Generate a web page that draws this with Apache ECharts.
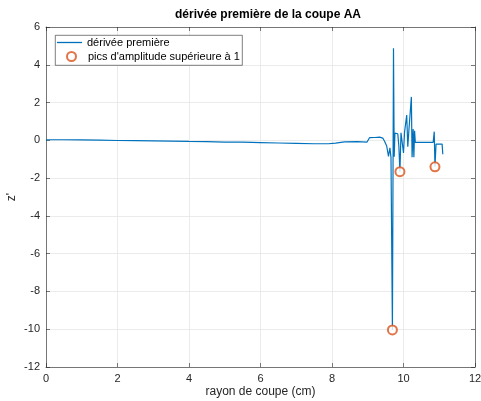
<!DOCTYPE html>
<html>
<head>
<meta charset="utf-8">
<script src="https://cdn.jsdelivr.net/npm/echarts@6/dist/echarts.min.js"></script>
<style>
  html, body { margin: 0; padding: 0; background: #fff; }
  #chart { width: 481px; height: 401px; }
</style>
</head>
<body>
<div id="chart"></div>
<script>
// Radius along the cut (cm) and first derivative z'
const radius = [
  0, 0.5, 1, 1.5, 2, 2.5, 3, 3.5, 4, 4.5, 5, 5.5, 6, 6.5, 7, 7.5, 7.9, 8.1, 8.35, 8.7, 8.98,
  9.05, 9.2, 9.33, 9.37, 9.42, 9.47, 9.53, 9.58, 9.62, 9.65, 9.69, 9.72, 9.74, 9.76, 9.79,
  9.84, 9.87, 9.9, 9.93, 9.97, 10.0, 10.03, 10.09, 10.12, 10.15, 10.19, 10.22, 10.24, 10.27,
  10.29, 10.31, 10.33, 10.83, 10.86, 10.88, 10.91, 11.08, 11.1
];
const derivative = [
  0.03, 0.03, 0.02, 0.01, -0.01, -0.02, -0.03, -0.04, -0.06, -0.07, -0.09, -0.1, -0.12, -0.14, -0.16, -0.18, -0.18, -0.15, -0.08, -0.07, -0.09,
  0.14, 0.15, 0.17, 0.22, 0.12, -0.05, -0.3, -0.85, -0.4, -0.9, -10.04, 4.88, -0.87, 0.38, 0.3,
  0.35, -0.3, -1.66, 0.4, 0.35, -0.67, 0.45, 1.34, -0.34, 0.5, 0.5, 2.3, -0.9, 0.6,
  -0.9, 0.5, -0.11, -0.11, 0.46, -1.4, -0.2, -0.2, -0.74
];
// Peaks whose amplitude exceeds 1
const peakRadius = [9.69, 9.9, 10.88];
const peakValue = [-10.04, -1.66, -1.4];

const lineName = 'dérivée première';
const peakName = "pics d'amplitude supérieure à 1";

const xTicks = { min: 0, max: 12, interval: 2 };
const yTicks = { min: -12, max: 6, interval: 2 };

const font = 'Liberation Sans, Helvetica, Arial, sans-serif';
const axisCol = '#262626';
const blue = '#0072BD';
const orange = '#D95319';

const chart = echarts.init(document.getElementById('chart'), null, { renderer: 'canvas' });

const tickStyle = { inside: true, length: 4, lineStyle: { color: axisCol, width: 0.6 } };
const lineStyle = { lineStyle: { color: axisCol, width: 0.6 } };
const gridLines = { show: true, lineStyle: { color: '#e6e6e6', width: 0.8 } };

const mainX = {
  type: 'value', min: xTicks.min, max: xTicks.max, interval: xTicks.interval,
  name: 'rayon de coupe (cm)', nameLocation: 'middle', nameGap: 19, nameMoveOverlap: false,
  nameTextStyle: { color: axisCol, fontSize: 12, fontFamily: font },
  axisLine: Object.assign({ onZero: false }, lineStyle),
  axisTick: tickStyle,
  axisLabel: { color: axisCol, fontSize: 11, fontFamily: font, margin: 6 },
  splitLine: gridLines
};
const mainY = {
  type: 'value', min: yTicks.min, max: yTicks.max, interval: yTicks.interval,
  name: "z'", nameLocation: 'middle', nameGap: 28, nameRotate: 90, nameMoveOverlap: false,
  nameTextStyle: { color: axisCol, fontSize: 12, fontFamily: font },
  axisLine: Object.assign({ onZero: false }, lineStyle),
  axisTick: tickStyle,
  axisLabel: { color: axisCol, fontSize: 11, fontFamily: font, margin: 6 },
  splitLine: gridLines
};
// Box frame: top and right axes with ticks only
const frameX = {
  type: 'value', position: 'top', min: xTicks.min, max: xTicks.max, interval: xTicks.interval,
  axisLine: Object.assign({ onZero: false }, lineStyle),
  axisTick: tickStyle,
  axisLabel: { show: false }, splitLine: { show: false }
};
const frameY = {
  type: 'value', position: 'right', min: yTicks.min, max: yTicks.max, interval: yTicks.interval,
  axisLine: Object.assign({ onZero: false }, lineStyle),
  axisTick: tickStyle,
  axisLabel: { show: false }, splitLine: { show: false }
};

const legendText = { fontSize: 11, color: '#000', fontFamily: font };

chart.setOption({
  animation: false,
  backgroundColor: '#ffffff',
  title: {
    text: 'dérivée première de la coupe AA',
    left: 263, top: 4, textAlign: 'center',
    textStyle: { fontSize: 12, fontWeight: 'bold', color: '#000', fontFamily: font }
  },
  grid: { left: 46, right: 6, top: 27, bottom: 34, outerBoundsMode: 'none', containLabel: false },
  xAxis: [mainX, frameX],
  yAxis: [mainY, frameY],
  // Legend frame shared by the two legend rows
  graphic: [{
    type: 'rect', left: 55, top: 35, z: 10,
    shape: { width: 187, height: 30 },
    style: { fill: '#fff', stroke: axisCol, lineWidth: 0.6 }
  }],
  legend: [
    {
      orient: 'vertical', left: 57, top: 37, z: 20, padding: 0,
      icon: 'rect', itemWidth: 25, itemHeight: 1.3,
      textStyle: legendText,
      data: [lineName]
    },
    {
      orient: 'vertical', left: 66, top: 51, z: 20, padding: 0,
      itemWidth: 23, itemHeight: 9,
      textStyle: legendText,
      data: [peakName]
    }
  ],
  series: [
    {
      name: lineName, type: 'line', xAxisIndex: 0, yAxisIndex: 0,
      data: radius.map((r, i) => [r, derivative[i]]),
      showSymbol: false, symbol: 'none',
      lineStyle: { color: blue, width: 1.2 },
      itemStyle: { color: blue }
    },
    {
      name: peakName, type: 'scatter', xAxisIndex: 0, yAxisIndex: 0,
      data: peakRadius.map((r, i) => [r, peakValue[i]]),
      symbol: 'emptyCircle', symbolSize: 9,
      itemStyle: { color: orange, borderColor: orange, borderWidth: 1 },
      z: 5
    }
  ]
});
</script>
</body>
</html>
